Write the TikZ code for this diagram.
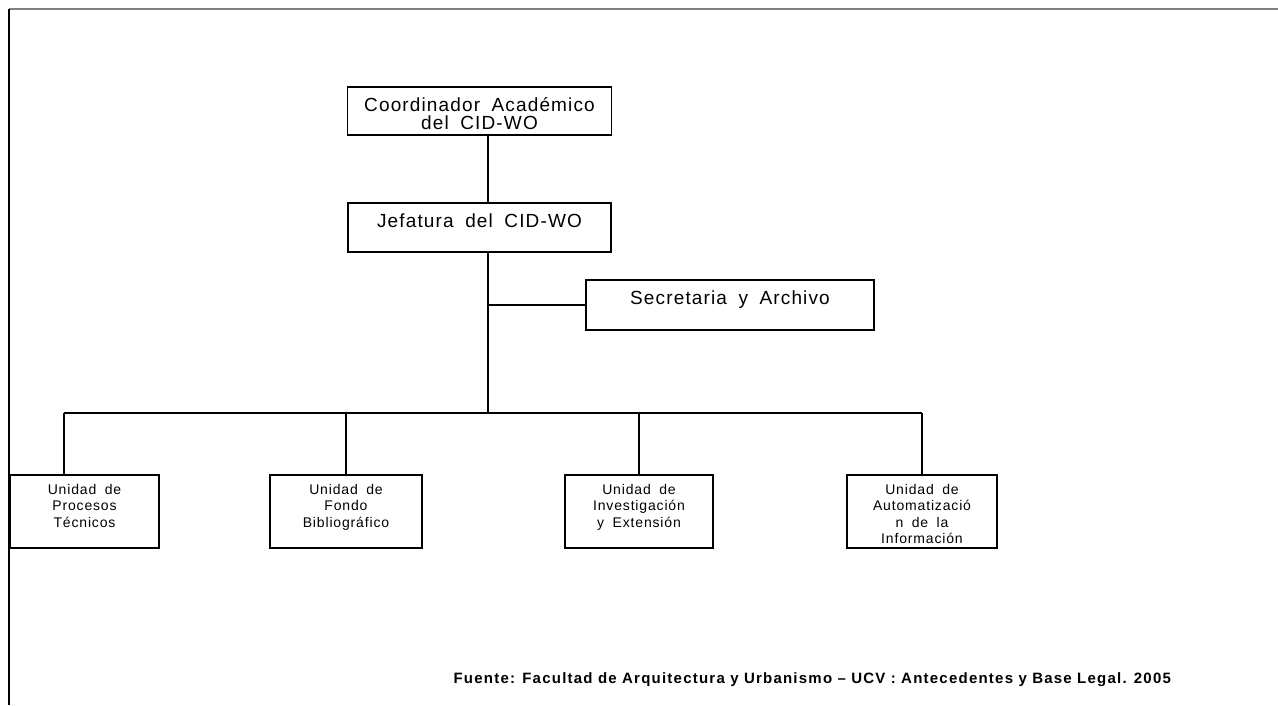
\documentclass[tikz,border=0pt]{standalone}
\usepackage{fontspec}
\setmainfont{Liberation Sans}
\newfontfamily\boxfont[LetterSpace=6]{Liberation Sans}
\newfontfamily\unitfont[LetterSpace=6,WordSpace=1.8]{Liberation Sans}
\usetikzlibrary{positioning}

\begin{document}
\begin{tikzpicture}[x=1pt,
					y=-1pt,
					line width=1.2pt,
					box/.style={draw, inner sep=0pt, minimum height=#1},
					big text/.style={anchor=north, align=center, inner sep=0pt, yshift=-10.5pt,
						font=\boxfont\fontsize{19}{18.5}\selectfont},
					small text/.style={anchor=north, align=center, inner sep=0pt, yshift=-9pt,
						font=\unitfont\fontsize{14}{16.5}\selectfont}]

  \useasboundingbox (0,0) rectangle (1278,705);

  % marco
  \draw[gray, line width=2pt] (9,9) -- (1278,9);
  \draw[line width=1.3pt] (9,9) -- (9,705);

  % cajas
  \node[box=48pt, minimum width=264pt, label={[big text]north:{Coordinador Académico\\del CID-WO}}] (coord) at (479.5,111) {};
  \node[box=49pt, minimum width=263pt, label={[big text]north:{Jefatura del CID-WO}}] (jef) at (479.5,227.5) {};
  \node[box=50pt, minimum width=288pt, label={[big text]north:{Secretaria y Archivo}}] (sec) at (730,305) {};

  \node[box=73pt, minimum width=149pt, label={[small text]north:{Unidad de\\Procesos\\Técnicos}}] (u1) at (84.5,511.5) {};
  \node[box=73pt, minimum width=152pt, label={[small text]north:{Unidad de\\Fondo\\Bibliográfico}}] (u2) at (346,511.5) {};
  \node[box=73pt, minimum width=148pt, label={[small text]north:{Unidad de\\Investigación\\y Extensión}}] (u3) at (639,511.5) {};
  \node[box=73pt, minimum width=150pt, label={[small text]north:{Unidad de\\Automatizació\\n de la\\Información}}] (u4) at (922,511.5) {};

  \node[anchor=base west, inner sep=0pt, font=\bfseries\fontsize{15}{17}\selectfont\addfontfeature{LetterSpace=8.2}] (fuente) at (453,683)
    {Fuente: Facultad de Arquitectura y Urbanismo – UCV : Antecedentes y Base Legal. 2005};

  % lineas
  \coordinate (trunk) at (488,413);
  \coordinate (bar1) at (64,413);

  \draw (coord.south -| trunk) -- (jef.north -| trunk);
  \draw (jef.south -| trunk) -- (trunk);
  \draw (sec.west) -- (sec.west -| trunk);
  \draw (bar1) -- (u4.north |- trunk);
  \draw (bar1) -- (bar1 |- u1.north);
  \foreach \u in {u2,u3,u4}
    \draw (\u.north |- trunk) -- (\u.north);
\end{tikzpicture}
\end{document}
